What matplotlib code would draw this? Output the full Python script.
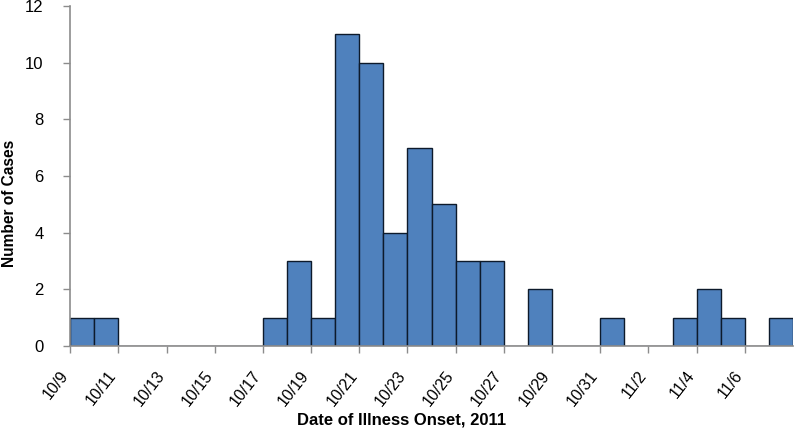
import numpy as np
import matplotlib.pyplot as plt
import matplotlib.transforms as mtransforms

plt.rcParams["font.family"] = ["Liberation Sans", "DejaVu Sans"]

# one bar per day, 10/9 .. 11/7
days = ["10/9", "10/10", "10/11", "10/12", "10/13", "10/14", "10/15", "10/16",
        "10/17", "10/18", "10/19", "10/20", "10/21", "10/22", "10/23", "10/24",
        "10/25", "10/26", "10/27", "10/28", "10/29", "10/30", "10/31",
        "11/1", "11/2", "11/3", "11/4", "11/5", "11/6", "11/7"]
cases = [1, 1, 0, 0, 0, 0, 0, 0,
         1, 3, 1, 11, 10, 4, 7, 5,
         3, 3, 0, 2, 0, 0, 1,
         0, 0, 1, 2, 1, 0, 1]

tick_labels = days[::2]

fig = plt.figure(figsize=(7.97, 4.32), dpi=100)
ax = fig.add_axes([0.088, 0.199, 0.907, 0.787])

x = np.arange(len(days))
ax.bar(x, cases, width=1.0, align="edge", color="#4F81BD",
       edgecolor="#0d1a2b", linewidth=1.0)

ax.set_xlim(0, len(days))
ax.set_ylim(0, 12)
ax.set_yticks(range(0, 13, 2))
ax.set_xticks(x[::2])
ax.set_xticklabels(tick_labels, rotation=52, ha="right", va="center",
                   rotation_mode="anchor", fontsize=11.5)
ax.tick_params(axis="y", labelsize=12, length=5, color="#8c8c8c", width=1, pad=14)
ax.tick_params(axis="x", length=5, color="#8c8c8c", width=1, pad=14)

# nudge the rotated date labels a little to the left
shift = mtransforms.ScaledTranslation(-5 / 100, 0, fig.dpi_scale_trans)
for lbl in ax.get_xticklabels():
    lbl.set_transform(lbl.get_transform() + shift)

for side in ["top", "right"]:
    ax.spines[side].set_visible(False)
for side in ["left", "bottom"]:
    ax.spines[side].set_color("#8c8c8c")
    ax.spines[side].set_linewidth(1.2)

fig.text(0.504, 0.028, "Date of Illness Onset, 2011", fontsize=12,
         fontweight="bold", ha="center", va="center")
fig.text(0.012, 0.53, "Number of Cases", fontsize=11.2, fontweight="bold",
         rotation=90, ha="center", va="center")

fig.savefig("out.png", dpi=100)
